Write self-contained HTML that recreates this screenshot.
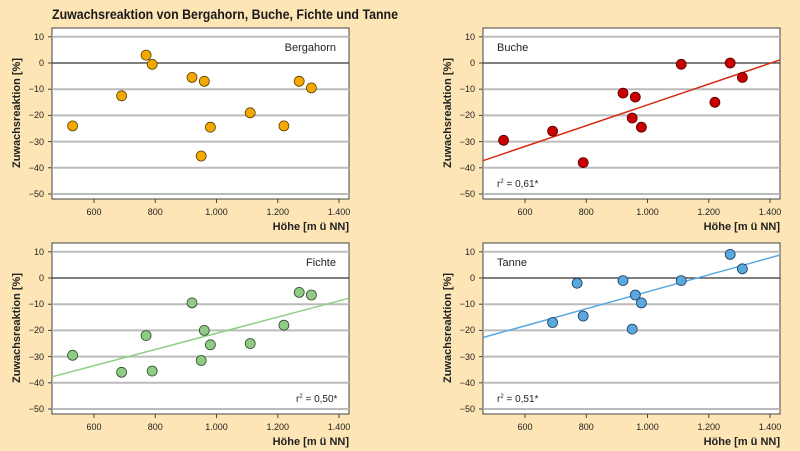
<!DOCTYPE html>
<html><head><meta charset="utf-8"><style>
html,body{margin:0;padding:0;background:#fde5b5;}
svg{display:block;font-family:"Liberation Sans",sans-serif;}
</style></head><body>
<svg width="800" height="451" viewBox="0 0 800 451" xmlns="http://www.w3.org/2000/svg">
<rect width="800" height="451" fill="#fde5b5"/>
<text x="52" y="19" font-size="14" font-weight="bold" fill="#1a1a1a" textLength="346" lengthAdjust="spacingAndGlyphs">Zuwachsreaktion von Bergahorn, Buche, Fichte und Tanne</text>
<defs>
<g id="frame">
<rect x="52" y="28" width="297" height="171" fill="#fff" stroke="#444" stroke-width="1"/>
<g stroke="#bbb" stroke-width="2">
<line x1="52" x2="349" y1="36.8" y2="36.8"/>
<line x1="52" x2="349" y1="89.2" y2="89.2"/>
<line x1="52" x2="349" y1="115.4" y2="115.4"/>
<line x1="52" x2="349" y1="141.6" y2="141.6"/>
<line x1="52" x2="349" y1="167.8" y2="167.8"/>
<line x1="52" x2="349" y1="194" y2="194"/>
</g>
<line x1="52" x2="349" y1="63" y2="63" stroke="#333" stroke-width="1.2"/>
<g stroke="#444" stroke-width="1">
<line x1="48" x2="52" y1="36.8" y2="36.8"/><line x1="48" x2="52" y1="63" y2="63"/><line x1="48" x2="52" y1="89.2" y2="89.2"/><line x1="48" x2="52" y1="115.4" y2="115.4"/><line x1="48" x2="52" y1="141.6" y2="141.6"/><line x1="48" x2="52" y1="167.8" y2="167.8"/><line x1="48" x2="52" y1="194" y2="194"/>
<line x1="94" x2="94" y1="199" y2="203"/><line x1="155.3" x2="155.3" y1="199" y2="203"/><line x1="216.5" x2="216.5" y1="199" y2="203"/><line x1="277.8" x2="277.8" y1="199" y2="203"/><line x1="339" x2="339" y1="199" y2="203"/>
</g>
<g font-size="9" fill="#222" text-anchor="end">
<text x="44" y="40">10</text><text x="44" y="66">0</text><text x="44" y="92">−10</text><text x="44" y="118">−20</text><text x="44" y="145">−30</text><text x="44" y="171">−40</text><text x="44" y="197">−50</text>
</g>
<g font-size="9" fill="#222" text-anchor="middle">
<text x="94" y="215">600</text><text x="155.3" y="215">800</text><text x="216.5" y="215">1.000</text><text x="277.8" y="215">1.200</text><text x="339" y="215">1.400</text>
</g>
<text x="349" y="230" font-size="11" font-weight="bold" text-anchor="end" fill="#222">Höhe [m ü NN]</text>
<text transform="translate(20,113) rotate(-90)" font-size="11" font-weight="bold" text-anchor="middle" fill="#222">Zuwachsreaktion [%]</text>
</g>
</defs>

<g>
<use href="#frame"/>
<text x="336" y="51" font-size="11" text-anchor="end" fill="#222">Bergahorn</text>
<g fill="#f5a800" stroke="#5a4000" stroke-width="0.8">
<circle cx="72.6" cy="125.9" r="5"/><circle cx="121.6" cy="95.8" r="5"/><circle cx="146.1" cy="55.1" r="5"/><circle cx="152.2" cy="64.3" r="5"/><circle cx="192" cy="77.4" r="5"/><circle cx="204.3" cy="81.3" r="5"/><circle cx="210.4" cy="127.2" r="5"/><circle cx="201.2" cy="156" r="5"/><circle cx="250.2" cy="112.8" r="5"/><circle cx="283.9" cy="125.9" r="5"/><circle cx="299.2" cy="81.3" r="5"/><circle cx="311.4" cy="87.9" r="5"/>
</g>
</g>

<g transform="translate(431,0)">
<use href="#frame"/>
<text x="66" y="51" font-size="11" fill="#222">Buche</text>
<text x="66" y="187" font-size="10" fill="#222">r<tspan font-size="6" dy="-4">2</tspan><tspan dy="4"> = 0,61*</tspan></text>
<line x1="52" y1="160.7" x2="349" y2="59.9" stroke="#d42a10" stroke-width="1.5"/>
<g fill="#c80000" stroke="#500" stroke-width="0.8">
<circle cx="72.6" cy="140.3" r="5"/><circle cx="121.6" cy="131.1" r="5"/><circle cx="152.2" cy="162.6" r="5"/><circle cx="192" cy="93.1" r="5"/><circle cx="204.3" cy="97.1" r="5"/><circle cx="201.2" cy="118" r="5"/><circle cx="210.4" cy="127.2" r="5"/><circle cx="250.2" cy="64.3" r="5"/><circle cx="283.9" cy="102.3" r="5"/><circle cx="299.2" cy="63" r="5"/><circle cx="311.4" cy="77.4" r="5"/>
</g>
</g>

<g transform="translate(0,215)">
<use href="#frame"/>
<text x="336" y="51" font-size="11" text-anchor="end" fill="#222">Fichte</text>
<text x="296" y="187" font-size="10" fill="#222">r<tspan font-size="6" dy="-4">2</tspan><tspan dy="4"> = 0,50*</tspan></text>
<line x1="52" y1="161.8" x2="349" y2="83.2" stroke="#8fcf85" stroke-width="1.5"/>
<g fill="#8fcb85" stroke="#2f4a2a" stroke-width="0.8">
<circle cx="72.6" cy="140.3" r="5"/><circle cx="121.6" cy="157.3" r="5"/><circle cx="146.1" cy="120.6" r="5"/><circle cx="152.2" cy="156" r="5"/><circle cx="192" cy="87.9" r="5"/><circle cx="204.3" cy="115.4" r="5"/><circle cx="201.2" cy="145.5" r="5"/><circle cx="210.4" cy="129.8" r="5"/><circle cx="250.2" cy="128.5" r="5"/><circle cx="283.9" cy="110.2" r="5"/><circle cx="299.2" cy="77.4" r="5"/><circle cx="311.4" cy="80" r="5"/>
</g>
</g>

<g transform="translate(431,215)">
<use href="#frame"/>
<text x="66" y="51" font-size="11" fill="#222">Tanne</text>
<text x="66" y="187" font-size="10" fill="#222">r<tspan font-size="6" dy="-4">2</tspan><tspan dy="4"> = 0,51*</tspan></text>
<line x1="52" y1="122.5" x2="349" y2="40" stroke="#5aa8e0" stroke-width="1.5"/>
<g fill="#5aa8e0" stroke="#1e3a55" stroke-width="0.8">
<circle cx="121.6" cy="107.5" r="5"/><circle cx="146.1" cy="68.2" r="5"/><circle cx="152.2" cy="101" r="5"/><circle cx="192" cy="65.6" r="5"/><circle cx="204.3" cy="80" r="5"/><circle cx="201.2" cy="114.1" r="5"/><circle cx="210.4" cy="87.9" r="5"/><circle cx="250.2" cy="65.6" r="5"/><circle cx="299.2" cy="39.4" r="5"/><circle cx="311.4" cy="53.8" r="5"/>
</g>
</g>
</svg>
</body></html>
